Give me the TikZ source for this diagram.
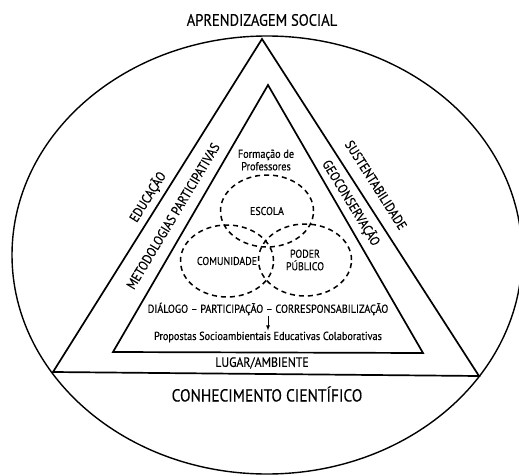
\documentclass[tikz,border=0pt]{standalone}
\usepackage{fontspec}
\setmainfont{PT Sans}[FakeStretch=0.88, FakeBold=0.35]
\usetikzlibrary{shapes}
\usetikzlibrary{arrows}

\tikzset{
  huge label/.style={font=\fontsize{16.5}{19}\selectfont},
  side label/.style={font=\fontsize{13.5}{16}\selectfont, inner sep=0pt},
  core label/.style={font=\fontsize{11.6}{12.5}\selectfont, inner sep=1pt},
  ring/.style={ellipse, draw, line width=1.5pt, dash pattern=on 5pt off 4pt,
    minimum width=93pt, minimum height=72pt, inner sep=0pt,
    font=\fontsize{11.3}{12.5}\selectfont, align=center},
  frame/.style={line width=1.7pt, line join=miter},
}

\begin{document}
\begin{tikzpicture}[>=latex, x=1pt, y=-1pt]
    \path[use as bounding box] (0,0) rectangle (519,476);
% outer ellipse
\draw[line width=1.4pt] (267,255) ellipse [x radius=255pt, y radius=219pt];

% triangles
\coordinate (T0) at (262,39);
\coordinate (T1) at (53,372);
\coordinate (T2) at (479,376);
\coordinate (S0) at (268,85);
\coordinate (S1) at (113,352);
\coordinate (S2) at (423,353);
\draw[frame] (T0) -- (T1) -- (T2) -- cycle;
\draw[frame] (S0) -- (S1) -- (S2) -- cycle;

% outer labels
\node[huge label] (social) at (262,20) {APRENDIZAGEM SOCIAL};
\node[huge label, font=\fontsize{17.5}{20}\selectfont] (cientifico) at (267,394) {CONHECIMENTO CIENTÍFICO};
\node[side label] (lugar) at (262,363) {LUGAR/AMBIENTE};
\node[side label, rotate=58] (educacao) at (148,197) {EDUCAÇÃO};
\node[side label, rotate=59] (metodologias) at (173,216) {METODOLOGIAS PARTICIPATIVAS};
\node[side label, rotate=-57.5] (sustentab) at (376,185) {SUSTENTABILIDADE};
\node[side label, rotate=-58.5] (geocons) at (351,203) {GEOCONSERVAÇÃO};

% core
\node[core label, align=center] (formacao) at (266,160) {Formação de\\Professores};
\node[ring] (escola) at (267,211) {ESCOLA};
\node[ring] (comunidade) at (227,261) {COMUNIDADE};
\node[ring] (poder) at (305,260) {PODER\\PÚBLICO};
\node[core label] (dialogo) at (268,309) {DIÁLOGO – PARTICIPAÇÃO – CORRESPONSABILIZAÇÃO};
\node[core label] (propostas) at (268,337) {Propostas Socioambientais Educativas Colaborativas};
\draw[->, line width=0.8pt] (dialogo) -- (propostas);
\end{tikzpicture}
\end{document}
